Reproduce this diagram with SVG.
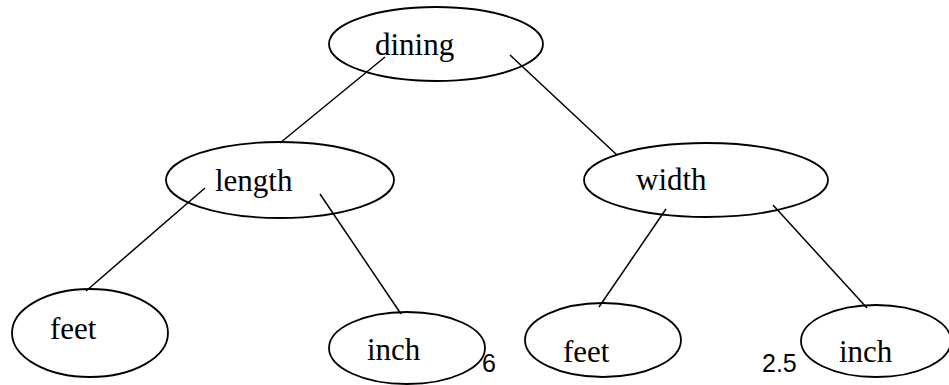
<svg xmlns="http://www.w3.org/2000/svg" width="949" height="385" viewBox="0 0 949 385">
<style>
.n ellipse{fill:none;stroke:#000;stroke-width:1.8}
.n text{font-family:"Liberation Serif","Times New Roman",serif;font-size:31px;fill:#000}
.e line{stroke:#000;stroke-width:1.5}
.v{font-family:"Liberation Sans",Arial,sans-serif;font-size:25px;fill:#000}
</style>
<rect width="949" height="385" fill="#fff"/>
<g class="e" id="connectors">
<line x1="385" y1="57" x2="280" y2="143"/>
<line x1="510" y1="55" x2="617" y2="155"/>
<line x1="205" y1="188" x2="86" y2="291"/>
<line x1="320" y1="194" x2="401" y2="314"/>
<line x1="666" y1="209" x2="599" y2="307"/>
<line x1="773" y1="205" x2="867" y2="308"/>
</g>
<g class="n" id="dining"><ellipse cx="436" cy="44" rx="107" ry="37"/><text x="375" y="55">dining</text></g>
<g class="n" id="length"><ellipse cx="280" cy="180" rx="114" ry="38"/><text x="215" y="191">length</text></g>
<g class="n" id="width"><ellipse cx="706" cy="180" rx="122" ry="37"/><text x="636" y="190">width</text></g>
<g class="n" id="feet1"><ellipse cx="90" cy="333" rx="78" ry="44"/><text x="50" y="339">feet</text></g>
<g class="n" id="inch1"><ellipse cx="407" cy="348" rx="78" ry="36"/><text x="367" y="360">inch</text></g>
<g class="n" id="feet2"><ellipse cx="603" cy="340" rx="78" ry="37"/><text x="563" y="362">feet</text></g>
<g class="n" id="inch2"><ellipse cx="876" cy="341" rx="75" ry="36"/><text x="839" y="362">inch</text></g>
<text class="v" x="482" y="372">6</text>
<text class="v" x="762" y="372">2.5</text>
</svg>
